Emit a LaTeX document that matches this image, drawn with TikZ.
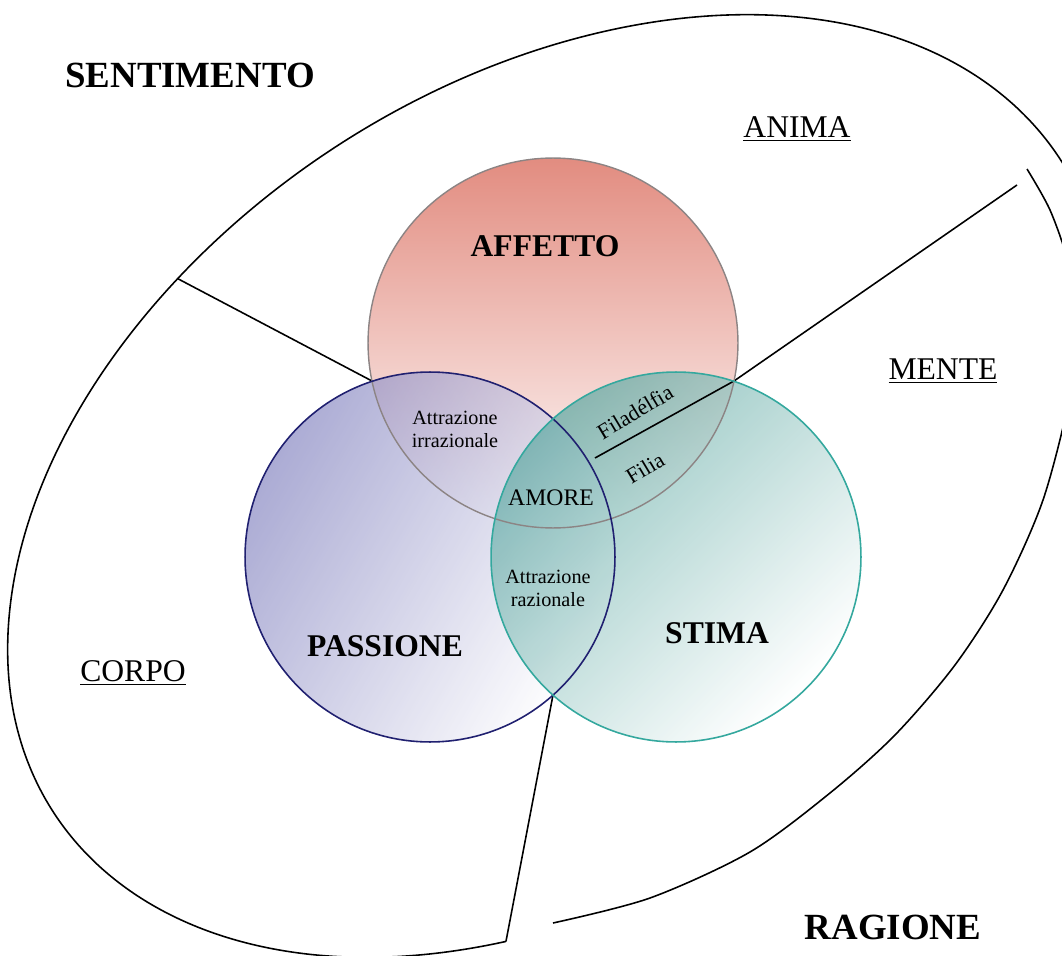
\documentclass[tikz,border=0pt]{standalone}
\usepackage{fontspec}
\setmainfont{Liberation Serif}

\definecolor{affetto}{RGB}{226,140,128}
\definecolor{passione}{RGB}{136,136,194}
\definecolor{stima}{RGB}{96,170,164}
\definecolor{affettoline}{RGB}{140,132,132}
\definecolor{passioneline}{RGB}{32,32,112}
\definecolor{stimaline}{RGB}{52,168,158}

\tikzset{
  rim/.style={line width=0.9pt},
  lab/.style={font=\fontsize{18}{20}\selectfont},
  boldlab/.style={font=\fontsize{18}{20}\selectfont\bfseries},
  biglab/.style={font=\fontsize{21}{24}\selectfont\bfseries},
  innerlab/.style={font=\fontsize{11.5}{13}\selectfont, align=center, inner sep=1pt},
}

\begin{document}
\begin{tikzpicture}[x=0.02cm,y=-0.02cm]
\useasboundingbox (0,0) rectangle (1062,956);
\clip (0,0) rectangle (1062,956);

% Size and center of the outer ellipse
\def\a{12cm}
\def\b{8.1cm}
\coordinate (O) at (557,486);

% Centers and radius of the three circles
\def\r{3.7cm}
\coordinate (A) at (553,343);
\coordinate (P) at (430,557);
\coordinate (S) at (676,557);

% Where the circles cross
\coordinate (AP) at (372,381);
\coordinate (AS) at (734,381);
\coordinate (PS) at (553,695);

% The outer border, open at the bottom and on the right
\begin{scope}[shift={(O)},rotate=33]
  \coordinate (E1) at (110:{\a} and {\b});
  \coordinate (E3) at (241:{\a} and {\b});
  \draw[rim] (E3) arc[start angle=241, end angle=-25, x radius=\a, y radius=\b];
\end{scope}

% The piece of RAGIONE, pulled out a little
\draw[rim] plot[smooth] coordinates {(1027,169) (1050,210) (1068,262) (1077,320)
  (1070,395) (1043,500) (1003,590) (955,665) (895,735) (830,793) (750,852)
  (650,898) (553,923)};

% Shaded circles
\shade[top color=affetto, bottom color=white] (A) circle[radius=\r];
\shade[top color=passione, middle color=passione!22, bottom color=white,
  shading angle=60, fill opacity=.7] (P) circle[radius=\r];
\shade[top color=stima, middle color=stima!10, bottom color=white,
  shading angle=45, fill opacity=.72] (S) circle[radius=\r];

% Cuts between the parts
\coordinate (L2a) at (595,458);
\coordinate (L2b) at (1017,185);
\draw[rim] (E1) -- (AP);
\draw[rim] (L2a) -- (AS) -- (L2b);
\draw[rim] (PS) -- (E3);

% Circle borders
\draw[affettoline, line width=0.8pt] (A) circle[radius=\r];
\draw[passioneline, line width=0.9pt] (P) circle[radius=\r];
\draw[stimaline, line width=0.9pt] (S) circle[radius=\r];

% Labels
\node[biglab] (sentimento) at (190,75) {SENTIMENTO};
\node[biglab] (ragione) at (893,927) {RAGIONE};
\node[lab] (anima) at (797,129) {\underline{ANIMA}};
\node[lab] (mente) at (943,371) {\underline{MENTE}};
\node[lab] (corpo) at (133,673) {\underline{CORPO}};
\node[boldlab] (affettolab) at (545,246) {AFFETTO};
\node[boldlab] (passionelab) at (385,646) {PASSIONE};
\node[boldlab] (stimalab) at (717,633) {STIMA};
\node[innerlab] (irraz) at (455,429) {Attrazione\\irrazionale};
\node[innerlab] (raz) at (548,588) {Attrazione\\razionale};
\node[font=\fontsize{13.5}{15}\selectfont] (amore) at (551,498) {AMORE};
\node[innerlab, font=\fontsize{12.5}{14}\selectfont, rotate=31] (filadelfia) at (635,412) {Filadélfia};
\node[innerlab, font=\fontsize{12.5}{14}\selectfont, rotate=31] (filia) at (645,468) {Filia};

\end{tikzpicture}
\end{document}
